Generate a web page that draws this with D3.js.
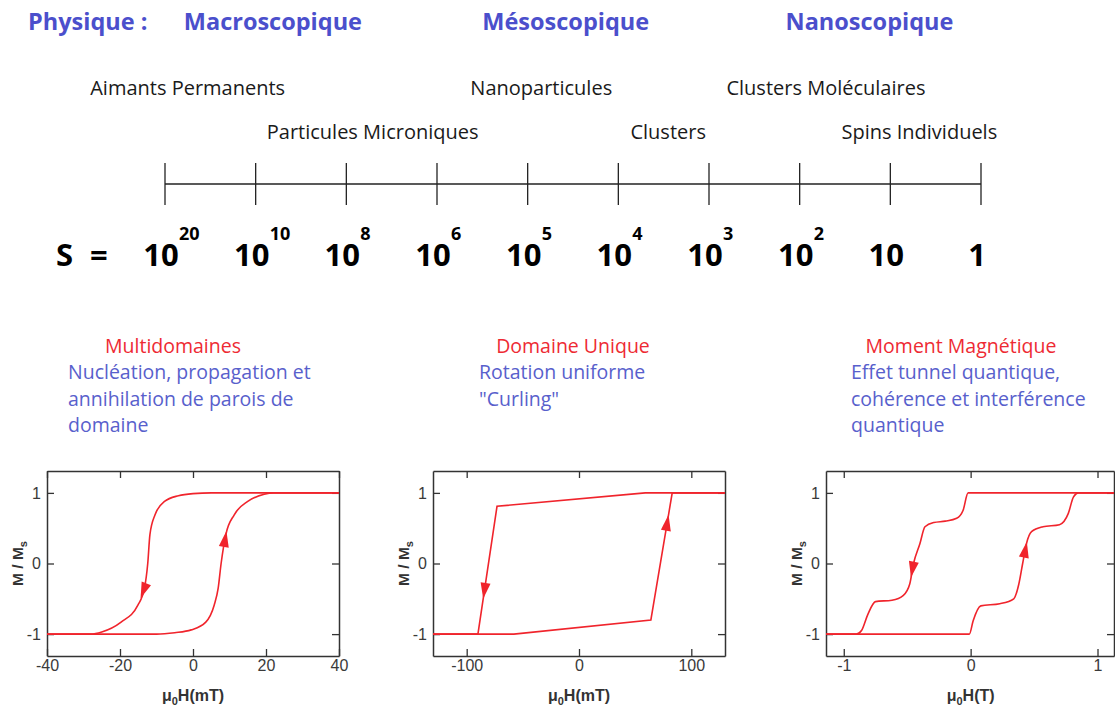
<!DOCTYPE html>
<html>
<head>
<meta charset="utf-8">
<script src="https://cdn.jsdelivr.net/npm/d3@7"></script>
<style>
  body { margin: 0; background: #ffffff; }
</style>
</head>
<body>
<div id="chart-container"></div>
<script>
const width = 1115;
const height = 707;

// --- echelle de taille S ---
const sBases = ["10", "10", "10", "10", "10", "10", "10", "10", "10", "1"];
const sExponents = ["20", "10", "8", "6", "5", "4", "3", "2", "", ""];
const regimes = ["Macroscopique", "Mésoscopique", "Nanoscopique"];
const regimeAt = [1.19, 4.42, 7.77];          // position on the S scale (tick index)
const objects = ["Aimants Permanents", "Particules Microniques", "Nanoparticules",
                 "Clusters", "Clusters Moléculaires", "Spins Individuels"];
const objectAt = [0.25, 2.29, 4.15, 5.55, 7.29, 8.32];
const objectRow = [0, 1, 0, 1, 0, 1];

// --- regimes de renversement ---
const titles = ["Multidomaines", "Domaine Unique", "Moment Magnétique"];
const descriptions = [
    ["Nucléation, propagation et", "annihilation de parois de", "domaine"],
    ["Rotation uniforme", "\"Curling\""],
    ["Effet tunnel quantique,", "cohérence et interférence", "quantique"]
];

// --- cycles d'hysteresis (H, M/Ms) ---
const multiDown = [[40, 1], [5, 1], [0, 0.99], [-4, 0.96], [-7.8, 0.88], [-10.4, 0.69], [-11.8, 0.41],
                   [-12.4, 0], [-13.3, -0.35], [-15.1, -0.59], [-19.7, -0.83], [-25, -0.97], [-28, -1], [-40, -1]];
const multiUp = [[-40, -1], [-10, -1], [-5, -0.98], [-0.5, -0.94], [3.5, -0.83], [5.8, -0.59], [6.9, -0.35],
                 [7.7, 0], [9, 0.41], [11.3, 0.69], [15, 0.88], [19.5, 0.98], [22, 1], [40, 1]];
const uniqueDown = [[130, 1], [59, 1], [-73, 0.81], [-90, -1], [-130, -1]];
const uniqueUp = [[-130, -1], [-58, -1], [64, -0.8], [83, 1], [130, 1]];
const nanoDown = [[1.13, 1], [-0.02, 1], [-0.06, 0.75], [-0.11, 0.64], [-0.2, 0.6], [-0.29, 0.58], [-0.36, 0.52],
                  [-0.4, 0.28], [-0.45, 0], [-0.48, -0.29], [-0.53, -0.45], [-0.62, -0.52], [-0.75, -0.54],
                  [-0.81, -0.72], [-0.86, -0.95], [-0.9, -1], [-1.14, -1]];
const nanoUp = [[-1.14, -1], [-0.01, -1], [0.02, -0.81], [0.08, -0.6], [0.23, -0.57], [0.34, -0.5],
                [0.38, -0.29], [0.41, 0], [0.44, 0.28], [0.48, 0.45], [0.57, 0.52], [0.7, 0.55],
                [0.77, 0.71], [0.81, 0.94], [0.85, 1], [1.13, 1]];
// arrows: [branch, M value where the arrow sits]
const multiArrows = [["down", -0.38], ["up", 0.34]];
const uniqueArrows = [["down", -0.38], ["up", 0.57]];
const nanoArrows = [["down", -0.08], ["up", 0.19]];

const blue = "#4b4fcc";
const lightBlue = "#5860cc";
const red = "#ee2a33";
const curveRed = "#f0242c";
const axisColor = "#333333";

const svg = d3.select("#chart-container")
    .append("svg")
    .attr("width", width)
    .attr("height", height)
    .style("background-color", "#ffffff");

// S scale
const sx = d3.scaleLinear()
    .domain([0, sBases.length - 1])
    .range([165, 981]);
const lineY = 184;

svg.append("text")
    .attr("x", 28).attr("y", 30)
    .attr("font-family", "Open Sans").attr("font-weight", "bold").attr("font-size", "23.5px")
    .attr("fill", blue)
    .text("Physique :");

svg.selectAll("text.regime")
    .data(regimes)
    .join("text")
    .attr("class", "regime")
    .attr("x", (d, i) => sx(regimeAt[i]))
    .attr("y", 30)
    .attr("text-anchor", "middle")
    .attr("font-family", "Open Sans").attr("font-weight", "bold").attr("font-size", "23.5px")
    .attr("fill", blue)
    .text(d => d);

svg.selectAll("text.object")
    .data(objects)
    .join("text")
    .attr("class", "object")
    .attr("x", (d, i) => sx(objectAt[i]))
    .attr("y", (d, i) => objectRow[i] === 0 ? 95 : 139)
    .attr("text-anchor", "middle")
    .attr("font-family", "Open Sans").attr("font-size", "20px")
    .attr("fill", "#1a1a1a")
    .text(d => d);

svg.append("line")
    .attr("x1", sx(0)).attr("x2", sx(sBases.length - 1))
    .attr("y1", lineY).attr("y2", lineY)
    .attr("stroke", "#222").attr("stroke-width", 1.3);

svg.selectAll("line.stick")
    .data(sBases)
    .join("line")
    .attr("class", "stick")
    .attr("x1", (d, i) => sx(i)).attr("x2", (d, i) => sx(i))
    .attr("y1", 163).attr("y2", 205)
    .attr("stroke", "#222").attr("stroke-width", 1.3);

svg.append("text")
    .attr("x", 56).attr("y", 266)
    .attr("font-family", "Open Sans").attr("font-weight", "bold").attr("font-size", "31px")
    .attr("fill", "#000")
    .text("S");
svg.append("text")
    .attr("x", 90).attr("y", 266)
    .attr("font-family", "Open Sans").attr("font-weight", "bold").attr("font-size", "31px")
    .attr("fill", "#000")
    .text("=");

const sLabels = svg.selectAll("g.slabel")
    .data(sBases)
    .join("g")
    .attr("class", "slabel")
    .attr("transform", (d, i) => `translate(${sx(i) - 4},0)`);

sLabels.append("text")
    .attr("y", 266)
    .attr("text-anchor", "middle")
    .attr("font-family", "Open Sans").attr("font-weight", "bold").attr("font-size", "31px")
    .attr("fill", "#000")
    .text(d => d);

sLabels.append("text")
    .attr("x", 18)
    .attr("y", 240)
    .attr("font-family", "Open Sans").attr("font-weight", "bold").attr("font-size", "18px")
    .attr("fill", "#000")
    .text((d, i) => sExponents[i]);

// --- panels ---
const panels = [
    {x0: 47, x1: 339, xDomain: [-40, 40], xTicks: [-40, -20, 0, 20, 40], unit: "mT",
     down: multiDown, up: multiUp, arrows: multiArrows, curve: d3.curveMonotoneX,
     titleX: 173, descX: 68},
    {x0: 433, x1: 725, xDomain: [-130, 130], xTicks: [-100, 0, 100], unit: "mT",
     down: uniqueDown, up: uniqueUp, arrows: uniqueArrows, curve: d3.curveLinear,
     titleX: 573, descX: 479},
    {x0: 826, x1: 1114, xDomain: [-1.14, 1.13], xTicks: [-1, 0, 1], unit: "T",
     down: nanoDown, up: nanoUp, arrows: nanoArrows, curve: d3.curveMonotoneX,
     titleX: 961, descX: 851}
];

const frameTop = 471;
const frameBottom = 656;

panels.forEach((p, k) => {
    // titles and descriptions
    svg.append("text")
        .attr("x", p.titleX).attr("y", 353)
        .attr("text-anchor", "middle")
        .attr("font-family", "Open Sans").attr("font-size", "19.5px")
        .attr("fill", red)
        .text(titles[k]);

    svg.append("g")
        .selectAll("text")
        .data(descriptions[k])
        .join("text")
        .attr("x", p.descX)
        .attr("y", (d, i) => 379 + i * 26.5)
        .attr("font-family", "Open Sans").attr("font-size", "19.5px")
        .attr("fill", lightBlue)
        .text(d => d);

    const x = d3.scaleLinear().domain(p.xDomain).range([p.x0, p.x1]);
    const y = d3.scaleLinear().domain([-1.31, 1.31]).range([frameBottom, frameTop]);

    const g = svg.append("g");

    const styleAxis = (sel) => {
        sel.selectAll(".domain").attr("stroke", axisColor).attr("stroke-width", 1.5);
        sel.selectAll(".tick line").attr("stroke", axisColor).attr("stroke-width", 1.3);
        sel.selectAll(".tick text").attr("fill", "#3a3a3a")
            .attr("font-family", "Liberation Sans, Arial, sans-serif").attr("font-size", "16px");
    };

    g.append("g")
        .attr("transform", `translate(0,${frameBottom})`)
        .call(d3.axisBottom(x).tickValues(p.xTicks).tickSize(-7).tickSizeOuter(0).tickPadding(4)
            .tickFormat(d => String(d)))
        .call(styleAxis);
    g.append("g")
        .attr("transform", `translate(0,${frameTop})`)
        .call(d3.axisTop(x).tickValues(p.xTicks).tickSize(-7).tickSizeOuter(0).tickFormat(""))
        .call(styleAxis);
    g.append("g")
        .attr("transform", `translate(${p.x0},0)`)
        .call(d3.axisLeft(y).tickValues([-1, 0, 1]).tickSize(-7).tickSizeOuter(0).tickPadding(6)
            .tickFormat(d => String(d)))
        .call(styleAxis);
    g.append("g")
        .attr("transform", `translate(${p.x1},0)`)
        .call(d3.axisRight(y).tickValues([-1, 0, 1]).tickSize(-7).tickSizeOuter(0).tickFormat(""))
        .call(styleAxis);

    // axis titles
    const xt = g.append("text")
        .attr("x", x(0)).attr("y", 701)
        .attr("text-anchor", "middle")
        .attr("font-family", "Liberation Sans, Arial, sans-serif").attr("font-weight", "bold")
        .attr("font-size", "16px").attr("fill", axisColor);
    xt.append("tspan").text("μ");
    xt.append("tspan").attr("font-size", "11px").attr("dy", 4).text("0");
    xt.append("tspan").attr("dy", -4).text(`H(${p.unit})`);

    const yt = g.append("text")
        .attr("transform", `translate(${p.x0 - 24},${y(0)}) rotate(-90)`)
        .attr("text-anchor", "middle")
        .attr("font-family", "Liberation Sans, Arial, sans-serif").attr("font-weight", "bold")
        .attr("font-size", "15.5px").attr("fill", axisColor);
    yt.append("tspan").text("M / M");
    yt.append("tspan").attr("font-size", "11px").attr("dy", 4).text("s");

    // curves
    const line = d3.line()
        .x(d => x(d[0]))
        .y(d => y(d[1]))
        .curve(p.curve);

    [p.down, p.up].forEach(branch => {
        g.append("path")
            .datum(branch.slice().sort((a, b) => a[0] - b[0]))
            .attr("d", line)
            .attr("fill", "none")
            .attr("stroke", curveRed)
            .attr("stroke-width", 1.6);
    });

    // arrows placed on the branch where M reaches the given value
    p.arrows.forEach(([which, m]) => {
        const branch = which === "down" ? p.down : p.up;
        let a = branch[0], b = branch[1];
        for (let i = 0; i < branch.length - 1; i++) {
            const m0 = branch[i][1], m1 = branch[i + 1][1];
            if ((m0 - m) * (m1 - m) <= 0 && m0 !== m1) { a = branch[i]; b = branch[i + 1]; break; }
        }
        const t = (m - a[1]) / (b[1] - a[1]);
        const hx = a[0] + t * (b[0] - a[0]);
        const px = x(hx), py = y(m);
        const ang = Math.atan2(y(b[1]) - y(a[1]), x(b[0]) - x(a[0])) * 180 / Math.PI + 90;
        g.append("path")
            .attr("d", "M0,-8.5 L5,7.5 L-5,7.5Z")
            .attr("transform", `translate(${px},${py}) rotate(${ang})`)
            .attr("fill", curveRed);
    });
});
</script>
</body>
</html>
